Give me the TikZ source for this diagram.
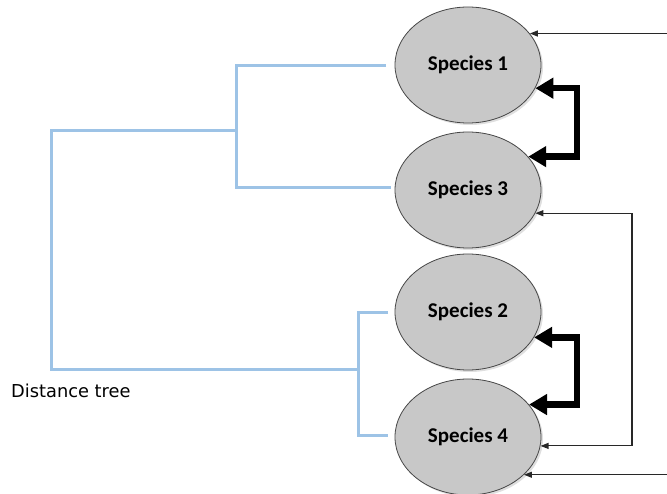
\documentclass[tikz,border=0pt]{standalone}
\usepackage{fontspec}
\newfontfamily\carlito{Carlito}
\newfontfamily\dejavu{DejaVu Sans}
\usetikzlibrary{arrows.meta,shapes.geometric,shadows}
\definecolor{ellfill}{RGB}{200,200,200}
\definecolor{ellline}{RGB}{70,70,70}
\definecolor{treeblue}{RGB}{157,195,230}
\definecolor{arrowdark}{RGB}{40,40,40}
\begin{document}
\begin{tikzpicture}[x=1pt,y=-1pt,
  species/.style={ellipse, draw=ellline, line width=0.8pt, fill=ellfill,
    minimum width=146pt, minimum height=116pt, inner sep=0pt,
    font=\carlito\bfseries\fontsize{21}{25}\selectfont,
    drop shadow={opacity=0.25, shadow xshift=2pt, shadow yshift=-2pt}},
  treeline/.style={treeblue, line width=3pt},
  thinarrow/.style={line width=1.1pt, draw=arrowdark, -{Triangle[length=8pt,width=6pt]}},
  thinboth/.style={line width=1.1pt, draw=arrowdark, {Triangle[length=8pt,width=6pt]}-{Triangle[length=8pt,width=6pt]}},
  thickarrow/.style={line width=6.5pt, line join=miter, draw=black,
    {Triangle[length=18pt,width=20pt]}-{Triangle[length=18pt,width=20pt]}},
  treelabel/.style={anchor=west, inner sep=0pt, font=\dejavu\fontsize{17.8}{21}\selectfont}
]
\useasboundingbox (0,0) rectangle (667,494);

% species nodes
\node[species] (s1) at (468,65) {Species 1};
\node[species] (s3) at (468,190) {Species 3};
\node[species] (s2) at (468,312) {Species 2};
\node[species] (s4) at (468,437) {Species 4};

% label
\node[treelabel] (lbl) at (11,391) {Distance tree};

% tree coordinates
\coordinate (l1) at (386,66);
\coordinate (l3) at (391,188);
\coordinate (ja) at (236,66);
\coordinate (jb) at (236,188);
\coordinate (jm) at (236,131);
\coordinate (rt) at (51,131);
\coordinate (rb) at (51,370);
\coordinate (km) at (358,370);
\coordinate (ka) at (358,313);
\coordinate (kb) at (358,435);
\coordinate (l2) at (388,313);
\coordinate (l4) at (388,435);

\draw[treeline] (l1) -- (ja) -- (jb) -- (l3);
\draw[treeline] (jm) -- (rt) -- (rb) -- (km);
\draw[treeline] (l2) -- (ka) -- (kb) -- (l4);

% helper x positions
\coordinate (edge) at (667,0);
\coordinate (bx) at (577,0);
\coordinate (rx) at (632,0);

% thin arrows from the right edge
\draw[thinarrow] (s1.27.7 -| edge) -- (s1.27.7);
\draw[thinarrow] (s4.-34.5 -| edge) -- (s4.-34.5);

% thin double arrow species 4 <-> species 3
\draw[thinboth] (s4.-7.9) -- (s4.-7.9 -| rx) -- (s3.-19.8 -| rx) -- (s3.-19.8);

% thick double arrows
\draw[thickarrow] (s1.-19.8) -- (s1.-19.8 -| bx) -- (s3.29.9 -| bx) -- (s3.29.9);
\draw[thickarrow] (s2.-21.7) -- (s2.-21.7 -| bx) -- (s4.28.8 -| bx) -- (s4.28.8);
\end{tikzpicture}
\end{document}
